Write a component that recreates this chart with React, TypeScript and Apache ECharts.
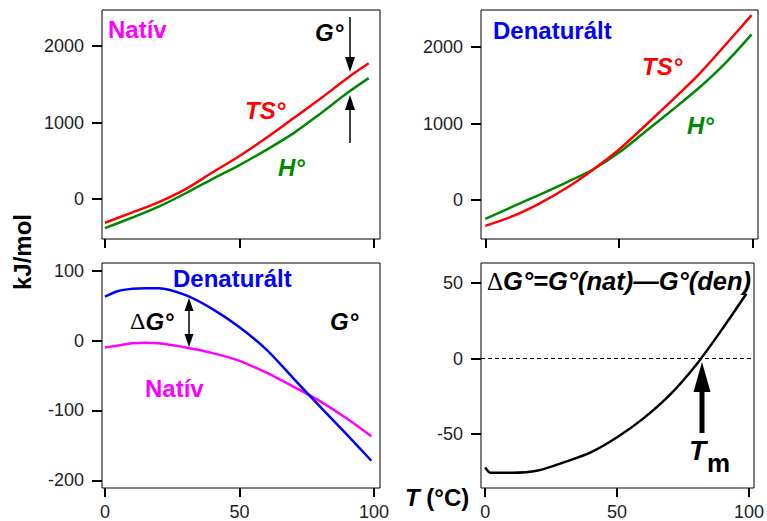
import React, { useEffect, useRef } from 'react';
import * as echarts from 'echarts';

// Panel 1: native state (kJ/mol)
const T_NAT = [0, 10, 20, 30, 40, 50, 60, 70, 80, 90, 98];
const NAT_TS = [-310, -178, -40, 130, 349, 562, 800, 1055, 1310, 1580, 1774];
const NAT_H = [-380, -245, -100, 75, 264, 444, 643, 858, 1115, 1385, 1580];

// Panel 2: denatured state
const T_DEN = [0, 10, 20, 30, 40, 50, 60, 70, 80, 90, 99.5];
const DEN_TS = [-338, -215, -50, 150, 390, 660, 980, 1310, 1650, 2040, 2416];
const DEN_H = [-247, -90, 65, 225, 395, 620, 900, 1180, 1470, 1800, 2165];

// Panel 3: G of both states
const T_G = [0, 5, 10, 15, 20, 30, 40, 50, 60, 70, 80, 90, 99];
const G_DEN = [63, 71, 74, 75, 75, 65, 45, 19, -13, -54, -95, -135, -172];
const G_NAT = [-10, -7, -4, -3, -4, -10, -18, -29, -46, -66, -87, -112, -137];

// Panel 4: delta G
const T_DG = [0, 2, 10, 20, 30, 40, 50, 60, 70, 80, 90, 99];
const DG = [-72, -75.5, -75.5, -74, -68.5, -62, -52, -39.5, -24, -4, 20, 43];

const X_TICKS = [0, 50, 100];
const Y_TICKS_1 = [0, 1000, 2000];
const Y_TICKS_3 = [-200, -100, 0, 100];
const Y_TICKS_4 = [-50, 0, 50];

const FONT = '"Liberation Sans", Arial, Helvetica, sans-serif';

const pairs = (xs: number[], ys: number[]) => xs.map((x, i) => [x, ys[i]]);

export default function App() {
  const ref = useRef<HTMLDivElement>(null);
  useEffect(() => {
    document.body.style.margin = '0';
    if (!ref.current) return;
    const chart = echarts.init(ref.current, null, { renderer: 'svg' });

    const gridDefs = [
      { left: 102, top: 10, width: 278, height: 229 },
      { left: 481, top: 10, width: 277, height: 229 },
      { left: 102, top: 263, width: 278, height: 226 },
      { left: 481, top: 263, width: 277, height: 226 },
    ];
    const xr = [
      [-1.1, 102.2],
      [-1.6, 101.9],
      [-1.1, 102.2],
      [-1.6, 101.9],
    ];
    const yr = [
      [-523, 2471],
      [-510, 2484],
      [-211, 111],
      [-85.6, 63.4],
    ];
    const yTicks = [Y_TICKS_1, Y_TICKS_1, Y_TICKS_3, Y_TICKS_4];

    const labelStyle = {
      color: '#222',
      fontSize: 18,
      fontFamily: FONT,
      formatter: (v: number) => String(v),
    };

    const line = (idx: number, xs: number[], ys: number[], color: string, extra: any = {}) => ({
      type: 'line',
      xAxisIndex: idx,
      yAxisIndex: idx,
      data: pairs(xs, ys),
      showSymbol: false,
      smooth: 0.3,
      color,
      lineStyle: { color, width: 2.5 },
      silent: true,
      ...extra,
    });

    const boldText = (text: string, x: number, y: number, fill: string, italic = false, size = 24) => ({
      type: 'text',
      x,
      y,
      style: {
        text,
        fill,
        fontSize: size,
        fontWeight: 'bold',
        fontStyle: italic ? 'italic' : 'normal',
        fontFamily: FONT,
        align: 'left',
        verticalAlign: 'middle',
      },
    });

    const option: any = {
      animation: false,
      grid: gridDefs.map((g) => ({ ...g, show: true, borderColor: '#000', borderWidth: 1, backgroundColor: 'transparent' })),
      xAxis: gridDefs.map((_, i) => ({
        type: 'value',
        gridIndex: i,
        min: xr[i][0],
        max: xr[i][1],
        axisLine: { show: false, onZero: false },
        splitLine: { show: false },
        axisTick: { show: true, inside: false, length: 9, lineStyle: { color: '#000', width: 2 }, customValues: X_TICKS },
        axisLabel: { show: i >= 2, customValues: X_TICKS, margin: 15, ...labelStyle },
      })),
      yAxis: gridDefs.map((_, i) => ({
        type: 'value',
        gridIndex: i,
        min: yr[i][0],
        max: yr[i][1],
        axisLine: { show: false, onZero: false },
        splitLine: { show: false },
        axisTick: { show: true, inside: false, length: 10, lineStyle: { color: '#000', width: 2 }, customValues: yTicks[i] },
        axisLabel: { show: true, customValues: yTicks[i], margin: 18, ...labelStyle },
      })),
      series: [
        line(0, T_NAT, NAT_H, '#008800'),
        line(0, T_NAT, NAT_TS, '#ff0000'),
        line(1, T_DEN, DEN_H, '#008800'),
        line(1, T_DEN, DEN_TS, '#ff0000'),
        line(2, T_G, G_NAT, '#ff00ff'),
        line(2, T_G, G_DEN, '#0000ff'),
        line(3, T_DG, DG, '#000000', {
          markLine: {
            silent: true,
            symbol: ['none', 'none'],
            label: { show: false },
            lineStyle: { type: [4, 3], color: '#000', width: 1 },
            data: [{ yAxis: 0 }],
          },
        }),
      ],
      graphic: [
        // panel 1
        boldText('Natív', 108, 29.5, '#ff00ff'),
        boldText('G°', 315, 32.5, '#000', true),
        boldText('TS°', 245, 110, '#ff0000', true),
        boldText('H°', 278, 167.5, '#008800', true),
        { type: 'line', shape: { x1: 350, y1: 17, x2: 350, y2: 60 }, style: { stroke: '#000', lineWidth: 1.5 } },
        { type: 'polygon', shape: { points: [[345, 57], [355, 57], [350, 72]] }, style: { fill: '#000' } },
        { type: 'line', shape: { x1: 350, y1: 143, x2: 350, y2: 107 }, style: { stroke: '#000', lineWidth: 1.5 } },
        { type: 'polygon', shape: { points: [[345, 110], [355, 110], [350, 95]] }, style: { fill: '#000' } },
        // panel 2
        boldText('Denaturált', 493, 30, '#0000ff'),
        boldText('TS°', 642, 66, '#ff0000', true),
        boldText('H°', 687, 125, '#008800', true),
        // panel 3
        boldText('Denaturált', 173, 278, '#0000ff'),
        {
          type: 'text',
          x: 130,
          y: 321,
          style: {
            text: '{d|Δ}{g|G°}',
            fill: '#000',
            align: 'left',
            verticalAlign: 'middle',
            rich: {
              d: { fontSize: 24, fontFamily: '"Liberation Serif", serif', fontWeight: 'normal', fill: '#000' },
              g: { fontSize: 24, fontFamily: FONT, fontWeight: 'bold', fontStyle: 'italic', fill: '#000' },
            },
          },
        },
        boldText('G°', 330, 321.5, '#000', true),
        boldText('Natív', 145, 388, '#ff00ff'),
        { type: 'line', shape: { x1: 189, y1: 308, x2: 189, y2: 337 }, style: { stroke: '#000', lineWidth: 1.5 } },
        { type: 'polygon', shape: { points: [[184.5, 311], [193.5, 311], [189, 298]] }, style: { fill: '#000' } },
        { type: 'polygon', shape: { points: [[184.5, 334], [193.5, 334], [189, 347]] }, style: { fill: '#000' } },
        // panel 4
        {
          type: 'text',
          x: 487,
          y: 281,
          style: {
            text: '{d|Δ}{g|G°=G°(nat)—G°(den)}',
            fill: '#000',
            align: 'left',
            verticalAlign: 'middle',
            rich: {
              d: { fontSize: 25, fontFamily: '"Liberation Serif", serif', fontWeight: 'normal', fill: '#000' },
              g: { fontSize: 25.5, fontFamily: FONT, fontWeight: 'bold', fontStyle: 'italic', fill: '#000' },
            },
          },
        },
        { type: 'rect', shape: { x: 699.5, y: 388, width: 5, height: 45 }, style: { fill: '#000' } },
        { type: 'polygon', shape: { points: [[693.5, 392], [710.5, 392], [702, 362]] }, style: { fill: '#000' } },
        boldText('T', 689, 450, '#000', true, 28),
        boldText('m', 707, 463, '#000', false, 26),
        // axis titles
        {
          type: 'text',
          x: 22,
          y: 252,
          rotation: Math.PI / 2,
          style: {
            text: 'kJ/mol',
            fill: '#000',
            fontSize: 24,
            fontWeight: 'bold',
            fontFamily: FONT,
            align: 'center',
            verticalAlign: 'middle',
          },
        },
        {
          type: 'text',
          x: 405,
          y: 497,
          style: {
            text: '{i|T}{b| (°C)}',
            fill: '#000',
            align: 'left',
            verticalAlign: 'middle',
            rich: {
              i: { fontSize: 24, fontFamily: FONT, fontWeight: 'bold', fontStyle: 'italic', fill: '#000' },
              b: { fontSize: 24, fontFamily: FONT, fontWeight: 'bold', fill: '#000' },
            },
          },
        },
      ],
    };
    chart.setOption(option);
    return () => chart.dispose();
  }, []);
  return <div ref={ref} style={{ width: 767, height: 521 }} />;
}
